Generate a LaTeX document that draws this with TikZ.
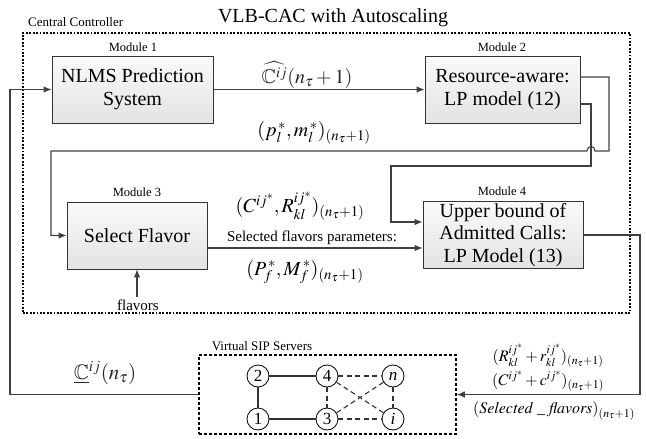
\documentclass[tikz,border=0pt]{standalone}
\usepackage{amssymb}
\usepackage{mathptmx}
\usepackage[no-math]{fontspec}
\setmainfont{Liberation Serif}
\usetikzlibrary{arrows.meta}
\definecolor{ln}{HTML}{404040}
\begin{document}
\begin{tikzpicture}[x=1pt,y=-1pt,
  modbox/.style={draw=black!80,line width=0.8pt,top color=gray!4,bottom color=gray!22,align=center,inner sep=0pt,font=\fontsize{20}{23}\selectfont},
  modlabel/.style={font=\fontsize{12.5}{14}\selectfont,inner sep=0pt},
  link/.style={draw=ln,line width=1.1pt,-{Latex[length=8pt,width=6.5pt]}},
  vm/.style={circle,draw=black,line width=0.8pt,minimum size=22pt,inner sep=0pt,font=\fontsize{17}{17}\selectfont,fill=white},
  solidedge/.style={draw=black!80,line width=1.3pt},
  dashedge/.style={draw=black!80,line width=1.1pt,dash pattern=on 5pt off 3.5pt},
  mathlbl/.style={font=\fontsize{20}{22}\selectfont,inner sep=0pt},
  smalltext/.style={font=\fontsize{15}{17}\selectfont,inner sep=0pt},
  rightmath/.style={font=\fontsize{16}{18}\selectfont,inner sep=0pt}
]
\useasboundingbox (0,0) rectangle (646,439);
% titles
\node[font=\fontsize{20}{22}\selectfont,inner sep=0pt] (title) at (333,18) {VLB-CAC with Autoscaling};
\node[font=\fontsize{13}{15}\selectfont,anchor=west,inner sep=0pt] (cc) at (28,22) {Central Controller};
% outer controller box
\node[draw=black,line width=1.5pt,dash pattern=on 1.8pt off 1.6pt,minimum width=607pt,minimum height=280pt,inner sep=0pt] (ctrl) at (326.5,173) {};
% modules
\node[modbox,minimum width=161pt,minimum height=67pt] (m1) at (132.5,89.5) {NLMS Prediction\\System};
\node[modlabel] (l1) at (133,47) {Module 1};
\node[modbox,minimum width=155pt,minimum height=67pt] (m2) at (502.5,89.5) {Resource-aware:\\LP model (12)};
\node[modlabel] (l2) at (502,47) {Module 2};
\node[modbox,minimum width=140pt,minimum height=67pt] (m3) at (137,235.5) {Select Flavor};
\node[modlabel] (l3) at (137,192) {Module 3};
\node[modbox,minimum width=160pt,minimum height=67pt,font=\fontsize{20}{22.5}\selectfont] (m4) at (503,235) {Upper bound of\\Admitted Calls:\\LP Model (13)};
\node[modlabel] (l4) at (502,191) {Module 4};
% virtual SIP servers
\node[draw=black,line width=1.5pt,dash pattern=on 3pt off 2pt,minimum width=257pt,minimum height=79pt,inner sep=0pt] (vss) at (327.5,394.5) {};
\node[font=\fontsize{13}{15}\selectfont,inner sep=0pt] (vsl) at (262,346) {Virtual SIP Servers};
\node[vm] (v2) at (258,376) {2};
\node[vm] (v4) at (327,376) {4};
\node[vm] (vn) at (393,376) {\textit{n}};
\node[vm] (v1) at (258,419) {1};
\node[vm] (v3) at (327,419) {3};
\node[vm] (vi) at (393,419) {\textit{i}};
\draw[solidedge] (v2) -- (v4);
\draw[solidedge] (v2) -- (v1);
\draw[solidedge] (v1) -- (v3);
\draw[dashedge] (v4) -- (vn);
\draw[dashedge] (v4) -- (v3);
\draw[dashedge] (v4) -- (vi);
\draw[dashedge] (v3) -- (vn);
\draw[dashedge] (v3) -- (vi);
\draw[dashedge] (vn) -- (vi);
% connectors
\draw[link] (m1.east) -- (m2.west);
\draw[link] (m2.east |- 0,77) -- (609,77) -- (609,151) -- (595,151) .. controls (595,145) and (587,145) .. (587,151) -- (51,151) -- (51,235.5) -- (m3.west);
\draw[link] (m2.east |- 0,104) -- (591,104) -- (591,166) -- (391,166) -- (391,222) -- (m4.west |- 0,222);
\draw[link] (m3.east |- 0,248) -- (m4.west |- 0,248);
\coordinate (flv) at (137,297);
\draw[link] (flv) -- (m3.south -| flv);
\draw[link] (m4.east) -- (640,235) -- (640,394.5) -- (vss.east);
\draw[link] (vss.west) -- (10,394.5) -- (10,89.5) -- (m1.west);
% labels
\node[mathlbl,text=black!85] (chat) at (307,75) {$\widehat{\mathbb{C}^{ij}}(n_\tau+1)$};
\node[mathlbl] (pm) at (314,133) {$(p_l^{\,*},m_l^{\,*})_{(n_\tau+1)}$};
\node[mathlbl] (cr) at (300,206) {$(C^{ij^*},R_{kl}^{ij^*})_{(n_\tau+1)}$};
\node[smalltext] (sfp) at (312,238) {Selected flavors parameters:};
\node[mathlbl] (pf) at (305,272) {$(P_f^{\,*},M_f^{\,*})_{(n_\tau+1)}$};
\node[smalltext] (flt) at (138,305) {flavors};
\node[rightmath] (rr) at (548,356) {$(R_{kl}^{ij^*}+r_{kl}^{ij^*})_{(n_\tau+1)}$};
\node[rightmath] (cc2) at (548,381) {$(C^{ij^*}+c^{ij^*})_{(n_\tau+1)}$};
\node[rightmath] (sel) at (554,411) {$(\mathit{Selected}\ \_\ \mathit{flavors})_{(n_\tau+1)}$};
\node[mathlbl,text=black!85,font=\fontsize{21}{23}\selectfont] (cund) at (105,373) {$\underline{\mathbb{C}}^{ij}(n_\tau)$};
\end{tikzpicture}
\end{document}
